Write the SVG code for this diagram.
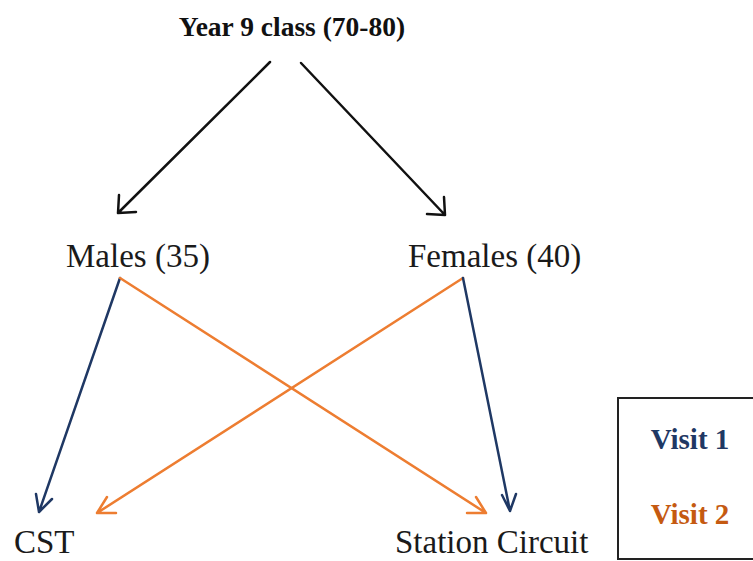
<svg xmlns="http://www.w3.org/2000/svg" width="753" height="561" viewBox="0 0 753 561">
<style>
.t{font-family:"Liberation Serif","Times New Roman",serif;font-size:33px;fill:#1a1a1a}
.b{font-family:"Liberation Serif","Times New Roman",serif;font-weight:bold}
.k{stroke:#111;stroke-width:2.5;fill:none}
.n{stroke:#1f3864;stroke-width:2.5;fill:none}
.o{stroke:#ed7d31;stroke-width:2.5;fill:none}
</style>
<rect width="753" height="561" fill="#fff"/>
<g id="title"><text class="b" x="292" y="36" font-size="27.5" text-anchor="middle" fill="#111">Year 9 class (70-80)</text></g>
<g id="males"><text class="t" x="66" y="267">Males (35)</text></g>
<g id="females"><text class="t" x="408" y="267">Females (40)</text></g>
<g id="cst"><text class="t" x="14" y="553">CST</text></g>
<g id="station"><text class="t" x="395" y="553">Station Circuit</text></g>
<g id="legend">
<rect x="618" y="398" width="145" height="161" fill="#fff" stroke="#222" stroke-width="2"/>
<text class="b" x="690" y="449" font-size="29" text-anchor="middle" fill="#1f3864">Visit 1</text>
<text class="b" x="690" y="524" font-size="29" text-anchor="middle" fill="#c55a11">Visit 2</text>
</g>
<g id="connectors" stroke-linecap="round" stroke-linejoin="round">
<path class="k" d="M270 62L118 213M119 195L118 213L136 212"/>
<path class="k" d="M301 63L445 215M444 197L445 215L427 214"/>
<path class="n" d="M120 278L39 512M36 494L39 512L52 499"/>
<path class="o" d="M120 278L486 513M476 497L486 513L467 513"/>
<path class="o" d="M463 278L97 513M107 497L97 513L116 513"/>
<path class="n" d="M463 278L510 511M502 495L510 511L516 494"/>
</g>
</svg>
